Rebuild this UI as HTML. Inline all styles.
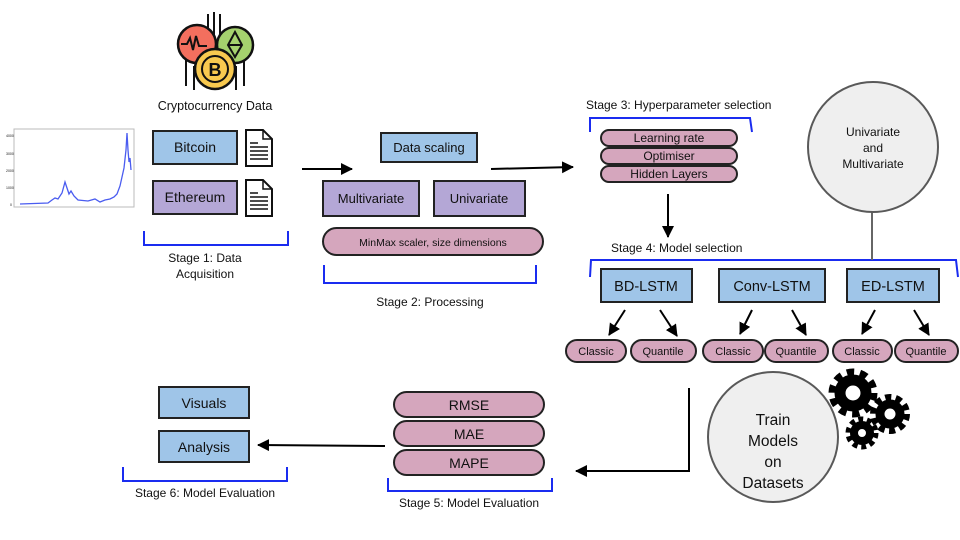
<!DOCTYPE html>
<html><head><meta charset="utf-8"><style>
html,body{margin:0;padding:0;background:#fff}
svg{display:block}
text{font-family:"Liberation Sans",sans-serif;fill:#111}
</style></head><body>
<svg width="960" height="540" viewBox="0 0 960 540" xmlns="http://www.w3.org/2000/svg">
<defs>
<marker id="ah2" markerWidth="12" markerHeight="12" refX="11" refY="6" orient="auto" markerUnits="userSpaceOnUse" viewBox="0 0 12 12"><path d="M0,0 L12,6 L0,12 Z" fill="#000"/></marker>
</defs>

<!-- crypto icon -->
<g stroke="#111" stroke-width="2" fill="none">
<line x1="208" y1="14" x2="208" y2="40"/><line x1="214" y1="12" x2="214" y2="38"/><line x1="220" y1="14" x2="220" y2="40"/>
<line x1="186" y1="60" x2="186" y2="86"/><line x1="194" y1="66" x2="194" y2="90"/><line x1="236" y1="66" x2="236" y2="90"/><line x1="244" y1="60" x2="244" y2="86"/>
</g>
<circle cx="197" cy="44" r="19" fill="#f36f5e" stroke="#111" stroke-width="2.5"/>
<path d="M181,44 h6 l3,-6 l3,12 l3,-14 l3,10 h8" fill="none" stroke="#111" stroke-width="2"/>
<circle cx="235" cy="45" r="18" fill="#a5d26e" stroke="#111" stroke-width="2.5"/>
<path d="M235,32 l-7,13 l7,12 l7,-12 Z M228,45 h14" fill="none" stroke="#111" stroke-width="2"/>
<circle cx="215" cy="69" r="20" fill="#f8c94f" stroke="#111" stroke-width="2.5"/>
<circle cx="215" cy="69" r="13" fill="none" stroke="#111" stroke-width="2"/>
<text x="215" y="76" font-size="18" font-weight="bold" text-anchor="middle">B</text>
<text x="215" y="110" font-size="12.5" text-anchor="middle">Cryptocurrency Data</text>

<!-- chart -->
<rect x="14" y="129" width="120" height="78" fill="#fff" stroke="#bbb"/>
<path d="M20,204 L48,203 L52,200 L55,198 L58,199 L62,193 L65,182 L67,188 L69,194 L71,191 L74,196 L78,200 L88,201 L95,199 L100,202 L105,200 L110,199 L114,197 L117,194 L120,186 L122,177 L124,168 L126,150 L127,133 L128,150 L129,162 L130,158 L131,170" fill="none" stroke="#4a5cf0" stroke-width="1.3"/>
<g font-size="3.5" fill="#777"><text x="6" y="137">4000</text><text x="6" y="155">3000</text><text x="6" y="172">2000</text><text x="6" y="189">1000</text><text x="10" y="206">0</text></g>

<!-- stage1 -->
<rect x="153" y="131" width="84" height="33" fill="#9fc5e8" stroke="#222" stroke-width="2"/>
<text x="195" y="152" font-size="14" text-anchor="middle">Bitcoin</text>
<rect x="153" y="181" width="84" height="33" fill="#b4a7d6" stroke="#222" stroke-width="2"/>
<text x="195" y="202" font-size="14" text-anchor="middle">Ethereum</text>
<g fill="#fff" stroke="#111" stroke-width="2">
<path d="M246,130 h17 l9,9 v27 h-26 Z"/><path d="M246,180 h17 l9,9 v27 h-26 Z"/>
</g>
<g stroke="#111" stroke-width="1.5" fill="none">
<path d="M263,130 v9 h9"/><path d="M263,180 v9 h9"/>
<line x1="250" y1="143" x2="258" y2="143"/><line x1="250" y1="147" x2="268" y2="147"/><line x1="250" y1="151" x2="268" y2="151"/><line x1="250" y1="155" x2="268" y2="155"/><line x1="250" y1="159" x2="268" y2="159"/>
<line x1="250" y1="193" x2="258" y2="193"/><line x1="250" y1="197" x2="268" y2="197"/><line x1="250" y1="201" x2="268" y2="201"/><line x1="250" y1="205" x2="268" y2="205"/><line x1="250" y1="209" x2="268" y2="209"/>
</g>

<!-- brackets -->
<g fill="none" stroke="#1a2cf0" stroke-width="2">
<path d="M144,231 v14 h144 v-14"/>
<path d="M324,265 v18 h212 v-18"/>
<path d="M590,132 v-14 h160 l2,14"/>
<path d="M590,277 l1,-17 h365 l2,17"/>
<path d="M388,478 v13 h164 v-13"/>
<path d="M123,467 v14 h164 v-14"/>
</g>
<text x="205" y="262" font-size="12" text-anchor="middle">Stage 1: Data</text>
<text x="205" y="278" font-size="12" text-anchor="middle">Acquisition</text>
<text x="430" y="306" font-size="12" text-anchor="middle">Stage 2: Processing</text>
<text x="586" y="109" font-size="12">Stage 3: Hyperparameter selection</text>
<text x="611" y="252" font-size="12">Stage 4: Model selection</text>
<text x="469" y="507" font-size="12" text-anchor="middle">Stage 5: Model Evaluation</text>
<text x="205" y="497" font-size="12" text-anchor="middle">Stage 6: Model Evaluation</text>

<!-- arrows -->
<g stroke="#000" stroke-width="2" fill="none">
<line x1="302" y1="169" x2="352" y2="169" marker-end="url(#ah2)"/>
<line x1="491" y1="169" x2="573" y2="167" marker-end="url(#ah2)"/>
<line x1="668" y1="194" x2="668" y2="237" marker-end="url(#ah2)"/>
<line x1="625" y1="310" x2="609" y2="335" marker-end="url(#ah2)"/>
<line x1="660" y1="310" x2="677" y2="336" marker-end="url(#ah2)"/>
<line x1="752" y1="310" x2="740" y2="334" marker-end="url(#ah2)"/>
<line x1="792" y1="310" x2="806" y2="335" marker-end="url(#ah2)"/>
<line x1="875" y1="310" x2="862" y2="334" marker-end="url(#ah2)"/>
<line x1="914" y1="310" x2="929" y2="335" marker-end="url(#ah2)"/>
<path d="M689,388 V471 H576" marker-end="url(#ah2)"/>
<line x1="385" y1="446" x2="258" y2="445" marker-end="url(#ah2)"/>
</g>

<!-- stage2 -->
<rect x="381" y="133" width="96" height="29" fill="#9fc5e8" stroke="#222" stroke-width="2"/>
<text x="429" y="152" font-size="13" text-anchor="middle">Data scaling</text>
<rect x="323" y="181" width="96" height="35" fill="#b4a7d6" stroke="#222" stroke-width="2"/>
<text x="371" y="203" font-size="13" text-anchor="middle">Multivariate</text>
<rect x="434" y="181" width="91" height="35" fill="#b4a7d6" stroke="#222" stroke-width="2"/>
<text x="479" y="203" font-size="13" text-anchor="middle">Univariate</text>
<rect x="323" y="228" width="220" height="27" rx="13.5" fill="#d5a6bd" stroke="#222" stroke-width="2"/>
<text x="433" y="246" font-size="10.5" text-anchor="middle">MinMax scaler, size dimensions</text>

<!-- stage3 -->
<g fill="#d5a6bd" stroke="#222" stroke-width="2">
<rect x="601" y="130" width="136" height="16" rx="8"/>
<rect x="601" y="148" width="136" height="16" rx="8"/>
<rect x="601" y="166" width="136" height="16" rx="8"/>
</g>
<text x="669" y="142" font-size="12" text-anchor="middle">Learning rate</text>
<text x="669" y="160" font-size="12" text-anchor="middle">Optimiser</text>
<text x="669" y="178" font-size="12" text-anchor="middle">Hidden Layers</text>

<!-- univariate circle -->
<line x1="872" y1="212" x2="872" y2="260" stroke="#666" stroke-width="2"/>
<circle cx="873" cy="147" r="65" fill="#efefef" stroke="#595959" stroke-width="2"/>
<text x="873" y="136" font-size="12" text-anchor="middle">Univariate</text>
<text x="873" y="152" font-size="12" text-anchor="middle">and</text>
<text x="873" y="168" font-size="12" text-anchor="middle">Multivariate</text>

<!-- stage4 -->
<g fill="#9fc5e8" stroke="#222" stroke-width="2">
<rect x="601" y="269" width="91" height="33"/>
<rect x="719" y="269" width="106" height="33"/>
<rect x="847" y="269" width="92" height="33"/>
</g>
<text x="646" y="291" font-size="14.5" text-anchor="middle">BD-LSTM</text>
<text x="772" y="291" font-size="14.5" text-anchor="middle">Conv-LSTM</text>
<text x="893" y="291" font-size="14.5" text-anchor="middle">ED-LSTM</text>
<g fill="#d5a6bd" stroke="#222" stroke-width="2">
<rect x="566" y="340" width="60" height="22" rx="11"/>
<rect x="631" y="340" width="65" height="22" rx="11"/>
<rect x="703" y="340" width="60" height="22" rx="11"/>
<rect x="765" y="340" width="63" height="22" rx="11"/>
<rect x="833" y="340" width="59" height="22" rx="11"/>
<rect x="895" y="340" width="63" height="22" rx="11"/>
</g>
<g font-size="11" text-anchor="middle">
<text x="596" y="355">Classic</text><text x="663" y="355">Quantile</text>
<text x="733" y="355">Classic</text><text x="796" y="355">Quantile</text>
<text x="862" y="355">Classic</text><text x="926" y="355">Quantile</text>
</g>

<!-- gears -->
<g fill="none" stroke="#000">
<circle cx="853" cy="393" r="20" stroke-width="9" stroke-dasharray="7 5.6"/>
<circle cx="853" cy="393" r="13" stroke-width="11"/>
<circle cx="890" cy="414" r="16" stroke-width="8" stroke-dasharray="5.8 4.3"/>
<circle cx="890" cy="414" r="10" stroke-width="9"/>
<circle cx="862" cy="433" r="13" stroke-width="7" stroke-dasharray="4.6 3.6"/>
<circle cx="862" cy="433" r="8" stroke-width="8"/>
</g>

<!-- train circle -->
<circle cx="773" cy="437" r="65" fill="#efefef" stroke="#595959" stroke-width="2"/>
<g font-size="15.5" text-anchor="middle">
<text x="773" y="425">Train</text><text x="773" y="446">Models</text><text x="773" y="467">on</text><text x="773" y="488">Datasets</text>
</g>

<!-- stage5 -->
<g fill="#d5a6bd" stroke="#222" stroke-width="2">
<rect x="394" y="392" width="150" height="25" rx="12.5"/>
<rect x="394" y="421" width="150" height="25" rx="12.5"/>
<rect x="394" y="450" width="150" height="25" rx="12.5"/>
</g>
<g font-size="14" text-anchor="middle">
<text x="469" y="410">RMSE</text><text x="469" y="439">MAE</text><text x="469" y="468">MAPE</text>
</g>

<!-- stage6 -->
<rect x="159" y="387" width="90" height="31" fill="#9fc5e8" stroke="#222" stroke-width="2"/>
<text x="204" y="408" font-size="14" text-anchor="middle">Visuals</text>
<rect x="159" y="431" width="90" height="31" fill="#9fc5e8" stroke="#222" stroke-width="2"/>
<text x="204" y="452" font-size="14" text-anchor="middle">Analysis</text>
</svg>
</body></html>
